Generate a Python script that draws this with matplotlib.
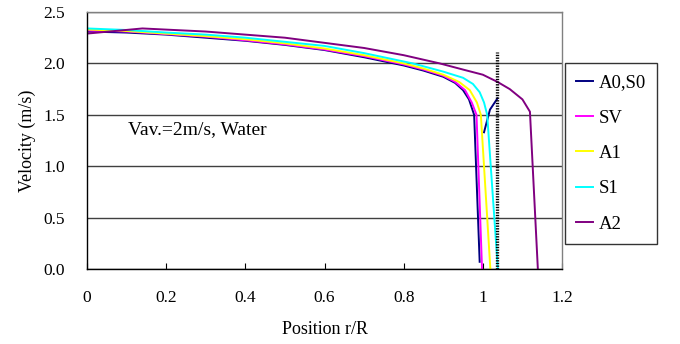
import numpy as np
import matplotlib.pyplot as plt

plt.rcParams['font.family'] = ['Liberation Serif', 'DejaVu Serif']

# A0,S0 (navy) - main profile then a separate short branch after the wall
x_a0 = [0, 0.1, 0.2, 0.3, 0.4, 0.5, 0.6, 0.7, 0.75, 0.8, 0.85, 0.9, 0.93, 0.95, 0.965, 0.978, 0.992,
        np.nan, 1.003, 1.018, 1.037]
v_a0 = [2.31, 2.30, 2.28, 2.25, 2.22, 2.18, 2.13, 2.06, 2.02, 1.98, 1.93, 1.87, 1.81, 1.74, 1.65, 1.50, 0.07,
        np.nan, 1.33, 1.55, 1.66]

x_sv = [0, 0.1, 0.2, 0.3, 0.4, 0.5, 0.6, 0.7, 0.75, 0.8, 0.85, 0.9, 0.93, 0.955, 0.972, 0.984, 0.998]
v_sv = [2.32, 2.31, 2.285, 2.26, 2.225, 2.185, 2.135, 2.07, 2.03, 1.99, 1.94, 1.88, 1.82, 1.74, 1.62, 1.50, 0.0]

x_a1 = [0, 0.1, 0.2, 0.3, 0.4, 0.5, 0.6, 0.7, 0.8, 0.85, 0.9, 0.94, 0.967, 0.985, 0.995, 1.019]
v_a1 = [2.33, 2.315, 2.29, 2.265, 2.235, 2.195, 2.145, 2.08, 2.00, 1.95, 1.89, 1.82, 1.74, 1.62, 1.50, 0.0]

x_s1 = [0, 0.1, 0.2, 0.3, 0.4, 0.5, 0.6, 0.7, 0.823, 0.9, 0.95, 0.975, 0.992, 1.003, 1.011, 1.038]
v_s1 = [2.34, 2.325, 2.30, 2.28, 2.25, 2.21, 2.17, 2.10, 2.00, 1.92, 1.86, 1.80, 1.72, 1.62, 1.50, 0.0]

x_a2 = [0, 0.14, 0.3, 0.5, 0.7, 0.8, 0.891, 0.95, 1.0, 1.037, 1.068, 1.1, 1.119, 1.139]
v_a2 = [2.29, 2.34, 2.31, 2.25, 2.15, 2.08, 2.00, 1.94, 1.89, 1.82, 1.75, 1.65, 1.53, 0.0]

labels = ["A0,S0", "SV", "A1", "S1", "A2"]
colors = ["#000080", "#FF00FF", "#FFFF00", "#00FFFF", "#800080"]
series = [(x_a0, v_a0), (x_sv, v_sv), (x_a1, v_a1), (x_s1, v_s1), (x_a2, v_a2)]

wall_x = 1.037
wall_v = [0.0, 2.11]

fig = plt.figure(figsize=(6.8, 3.44), dpi=100)
ax = fig.add_axes([87 / 680, 75 / 344, 475 / 680, 257 / 344])

ax.yaxis.grid(True, color="#404040", linewidth=1.0)
ax.set_axisbelow(True)

for (xs, vs), lab, col in zip(series, labels, colors):
    ax.plot(xs, vs, color=col, linewidth=1.4, label=lab)

ax.plot([wall_x, wall_x], wall_v, color="black", linewidth=2.4, linestyle=(0, (0.4, 0.4)))

ax.text(0.1035, 1.36, "Vav.=2m/s, Water", fontsize=14, va="center", ha="left")

ax.set_xlim(0, 1.2)
ax.set_ylim(0, 2.5)
ax.set_xticks([0, 0.2, 0.4, 0.6, 0.8, 1.0, 1.2])
ax.set_xticklabels(["0", "0.2", "0.4", "0.6", "0.8", "1", "1.2"])
ax.set_yticks([0, 0.5, 1.0, 1.5, 2.0, 2.5])
ax.set_yticklabels(["0.0", "0.5", "1.0", "1.5", "2.0", "2.5"])
ax.tick_params(axis="x", direction="in", length=4, width=0.8, pad=15, labelsize=12.5)
ax.tick_params(axis="y", length=0, pad=16, labelsize=12.5)

for side in ["left", "bottom"]:
    ax.spines[side].set_color("black")
    ax.spines[side].set_linewidth(1.0)
for side in ["top", "right"]:
    ax.spines[side].set_color("#808080")
    ax.spines[side].set_linewidth(1.0)

ax.set_xlabel("Position r/R", fontsize=13, labelpad=11)
ax.set_ylabel("Velocity (m/s)", fontsize=13, labelpad=5)

leg = fig.legend(loc="upper left", bbox_to_anchor=(565 / 680, 1 - 63 / 344), fontsize=13.5,
                 frameon=True, fancybox=False, edgecolor="black", handlelength=0.9,
                 handletextpad=0.3, labelspacing=0.97, borderpad=0.6, borderaxespad=0)
leg.get_frame().set_linewidth(1.0)

fig.savefig("out.png", dpi=100)
